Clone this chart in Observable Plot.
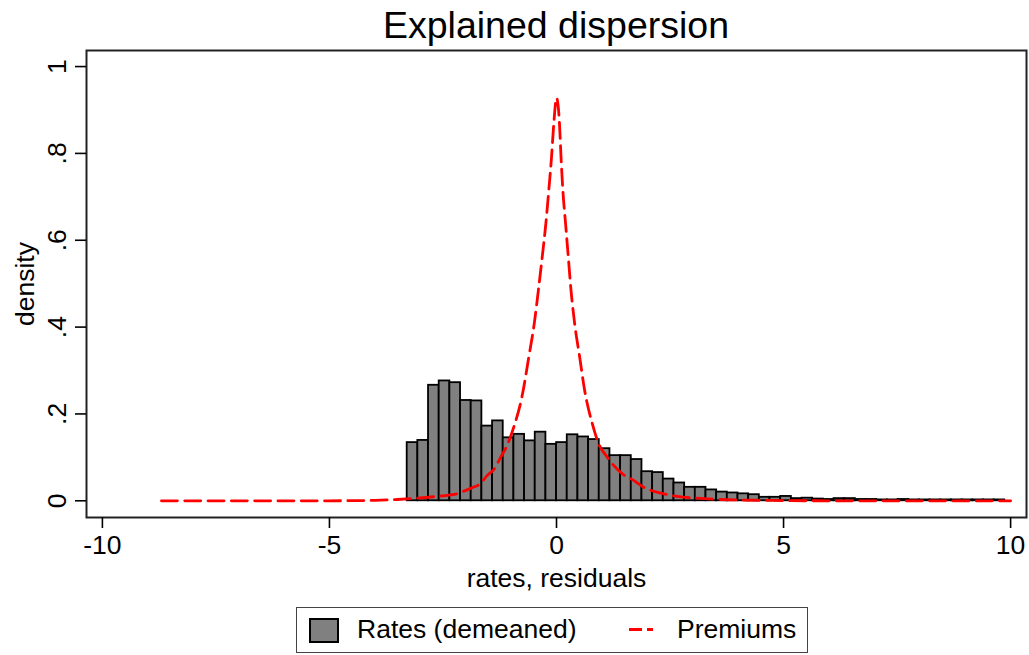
<!DOCTYPE html>
<html>
<head>
<meta charset="utf-8">
<script src="https://cdn.jsdelivr.net/npm/d3@7"></script>
<script src="https://cdn.jsdelivr.net/npm/@observablehq/plot@0.6"></script>
<style>
  html, body { margin: 0; padding: 0; background: white; }
  body { width: 1029px; height: 655px; position: relative; overflow: hidden;
         font-family: "Liberation Sans", Arial, sans-serif; color: black; }
  #title { position: absolute; left: 86px; width: 940px; top: 4px; text-align: center;
           font-size: 37.5px; line-height: 42px; }
  #chart { position: absolute; left: 0; top: 46px; }
  #legend { position: absolute; left: 296px; top: 607px; width: 510px; height: 44px;
            border: 1px solid #444; box-sizing: content-box; background: white; }
  .sw { position: absolute; left: 12px; top: 10px; width: 26px; height: 21px;
        background: #808080; border: 2px solid black; }
  .lab { position: absolute; top: 6px; font-size: 26.5px; line-height: 30px; white-space: nowrap; }
  .dash { position: absolute; left: 332px; top: 20px; width: 24px; height: 3px;
          background: linear-gradient(to right, red 0 13px, transparent 13px 18px, red 18px 24px); }
</style>
</head>
<body>
<div id="title">Explained dispersion</div>
<div id="chart"></div>
<div id="legend">
  <div class="sw"></div>
  <div class="lab" style="left:60px">Rates (demeaned)</div>
  <div class="dash"></div>
  <div class="lab" style="left:380px">Premiums</div>
</div>
<script>
// Histogram of demeaned rates: bins start at binStart, each binWidth wide
const binStart = -3.288;
const binWidth = 0.235;
const rateDensity = [
  0.134, 0.139, 0.266, 0.276, 0.272, 0.231, 0.230, 0.172, 0.184, 0.145,
  0.153, 0.138, 0.158, 0.130, 0.134, 0.152, 0.147, 0.141, 0.120, 0.104,
  0.104, 0.095, 0.067, 0.065, 0.050, 0.041, 0.031, 0.031, 0.025, 0.020,
  0.018, 0.016, 0.014, 0.008, 0.008, 0.010, 0.005, 0.006, 0.004, 0.003,
  0.005, 0.005, 0.003, 0.003, 0.002, 0.002, 0.003, 0.002, 0.002, 0.002,
  0.002, 0.002, 0.002, 0.002, 0.002, 0.002
];

// Premiums density curve
const premiumX = [
  -8.7, -7, -5, -4, -3.5, -3.07, -2.55, -2.19, -2.0, -1.86, -1.67, -1.53, -1.38,
  -1.23, -1.1, -0.94, -0.76, -0.61, -0.49, -0.40, -0.315, -0.235, -0.17, -0.11, -0.06,
  0,
  0.066, 0.10, 0.14, 0.20, 0.26, 0.32, 0.40, 0.51, 0.62, 0.79, 0.93, 1.12, 1.45,
  1.70, 1.92, 2.14, 2.36, 2.66, 3.1, 3.61, 4.5, 6, 8, 10
];
const premiumY = [
  0, 0, 0, 0.001, 0.003, 0.006, 0.011, 0.016, 0.024, 0.030, 0.040, 0.058, 0.072,
  0.100, 0.125, 0.170, 0.240, 0.331, 0.408, 0.484, 0.561, 0.638, 0.715, 0.791, 0.868,
  0.928,
  0.868, 0.791, 0.715, 0.638, 0.561, 0.484, 0.408, 0.331, 0.254, 0.177, 0.131, 0.100, 0.062,
  0.047, 0.031, 0.022, 0.016, 0.010, 0.006, 0.003, 0.001, 0, 0, 0
];

const xTicks = [-10, -5, 0, 5, 10];
const yTicks = [0, 0.2, 0.4, 0.6, 0.8, 1];
const yTickLabels = ["0", ".2", ".4", ".6", ".8", "1"];

const bars = rateDensity.map((h, i) => ({
  x1: binStart + i * binWidth,
  x2: binStart + (i + 1) * binWidth,
  h
}));
const premium = premiumX.map((x, i) => ({x, y: premiumY[i]}));

const chart = Plot.plot({
  width: 1029,
  height: 556,
  marginTop: 4,
  marginLeft: 86,
  marginRight: 3,
  marginBottom: 85,
  style: {fontFamily: "'Liberation Sans', Arial, sans-serif", fontSize: "26.5px", color: "black", background: "white"},
  x: {domain: [-10.35, 10.35]},
  y: {domain: [-0.0385, 1.037]},
  marks: [
    Plot.rect(bars, {x1: "x1", x2: "x2", y1: 0, y2: "h", fill: "#808080", stroke: "black", strokeWidth: 1.8}),
    Plot.line(premium, {x: "x", y: "y", stroke: "red", strokeWidth: 2.8, strokeDasharray: "16,7.3", curve: "monotone-x"}),
    Plot.frame({stroke: "#222", strokeWidth: 2}),
    Plot.axisX({
      ticks: xTicks, tickSize: 11, tickPadding: 7, fontSize: 26.5, strokeWidth: 1.6,
      tickFormat: d => String(d),
      label: "rates, residuals", labelAnchor: "center", labelArrow: "none", labelOffset: 69
    }),
    Plot.axisY({
      ticks: yTicks, tickSize: 11, tickPadding: 10, fontSize: 26.5, strokeWidth: 1.6,
      tickRotate: -90, textAnchor: "middle", lineAnchor: "bottom",
      tickFormat: d => yTickLabels[yTicks.indexOf(d)],
      label: "density", labelAnchor: "center", labelArrow: "none", labelOffset: 71
    })
  ]
});
document.getElementById("chart").appendChild(chart);
</script>
</body>
</html>
